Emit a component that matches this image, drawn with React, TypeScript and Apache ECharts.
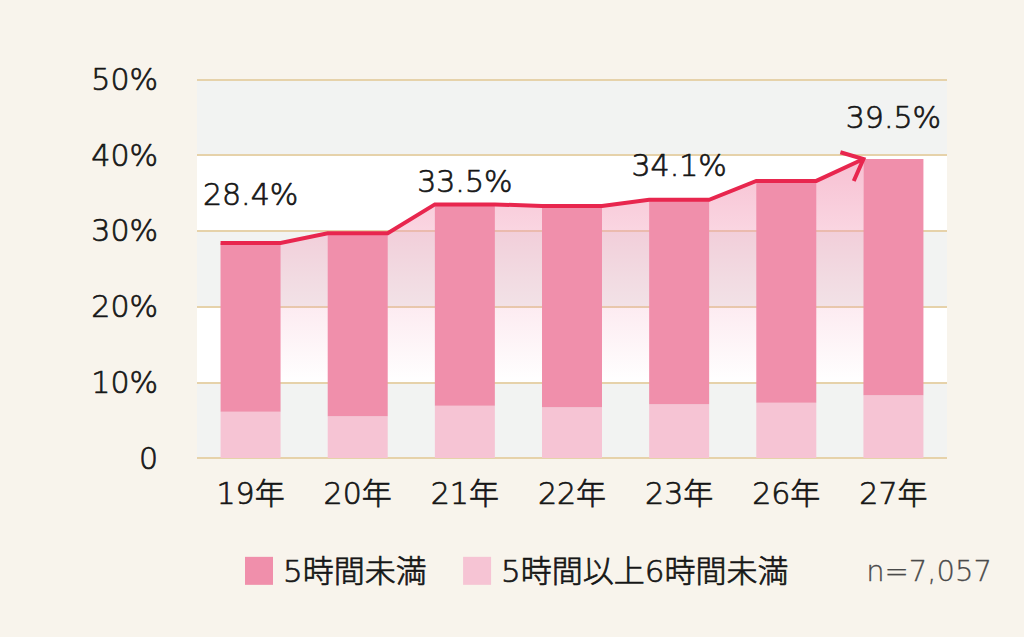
import React, { useEffect, useRef } from "react";
import * as echarts from "echarts";

const categories = ["19年", "20年", "21年", "22年", "23年", "26年", "27年"];
const under5 = [22.3, 24.2, 26.6, 26.6, 27.0, 29.3, 31.2];
const from5to6 = [6.1, 5.5, 6.9, 6.7, 7.1, 7.3, 8.3];
const totals = [28.4, 29.7, 33.5, 33.3, 34.1, 36.6, 39.5];
const labelShown = [true, false, true, false, true, false, true];
const seriesNames = ["5時間未満", "5時間以上6時間未満"];
const sampleNote = "n=7,057";
const yTicks = [0, 10, 20, 30, 40, 50];

const FONT = "'DejaVu Sans', 'Noto Sans CJK JP', sans-serif";
const WEIGHT = 200;
const INK = "#161616";
const THICK = { textBorderColor: INK, textBorderWidth: 0.7 };
const BAR_RATIO = 0.56;

export default function App() {
  const ref = useRef<HTMLDivElement>(null);
  useEffect(() => {
    if (!ref.current) return;
    const chart = echarts.init(ref.current, null, { renderer: "svg" });
    const labelLift = [33, 0, 7, 0, 18, 0, 25];

    const linePoints = (api: any) => {
      const bw = api.size([1, 0])[0];
      const half = (bw * BAR_RATIO) / 2;
      const pts: number[][] = [];
      totals.forEach((t, i) => {
        const c = api.coord([i, t]);
        pts.push([c[0] - half, c[1]]);
        if (i < totals.length - 1) pts.push([c[0] + half, c[1]]);
      });
      return pts;
    };

    const option: any = {
      animation: false,
      backgroundColor: "#f8f4ec",
      textStyle: { fontFamily: FONT, fontWeight: WEIGHT },
      grid: { left: 197, right: 77, top: 79.5, bottom: 179 },
      legend: {
        data: seriesNames,
        left: 240,
        top: 550,
        icon: "rect",
        itemWidth: 28,
        itemHeight: 28,
        itemGap: 36,
        textStyle: {
          fontSize: 31,
          color: INK,
          fontFamily: FONT,
          fontWeight: WEIGHT,
          padding: [0, 0, 0, 5],
          ...THICK,
        },
      },
      xAxis: {
        type: "category",
        data: categories,
        axisLine: { show: false },
        axisTick: { show: false },
        axisLabel: { fontSize: 30, color: INK, margin: 20, fontFamily: FONT, fontWeight: WEIGHT, ...THICK },
      },
      yAxis: {
        type: "value",
        min: yTicks[0],
        max: yTicks[yTicks.length - 1],
        interval: 10,
        axisLine: { show: false },
        axisTick: { show: false },
        axisLabel: {
          fontSize: 30,
          color: INK,
          margin: 39,
          fontFamily: FONT,
          fontWeight: WEIGHT,
          ...THICK,
          formatter: (v: number) => (v === 0 ? "0" : v + "%"),
        },
        splitLine: { lineStyle: { color: "#e6d2aa", width: 2 } },
        splitArea: { show: true, areaStyle: { color: ["#f2f3f2", "#ffffff"] } },
      },
      graphic: [
        {
          type: "text",
          left: 866,
          top: 556,
          style: {
            text: sampleNote,
            fontSize: 29,
            fill: "#4a4a4a",
            fontFamily: FONT,
            fontWeight: WEIGHT,
            stroke: "#4a4a4a",
            lineWidth: 0.3,
          },
        },
      ],
      series: [
        {
          type: "custom",
          z: 1,
          silent: true,
          clip: false,
          data: totals,
          renderItem: (params: any, api: any) => {
            if (params.dataIndex !== 0) return { type: "group", children: [] };
            const pts = linePoints(api);
            const base = api.coord([0, 10])[1];
            const poly = pts.concat([
              [pts[pts.length - 1][0], base],
              [pts[0][0], base],
            ]);
            return {
              type: "polygon",
              shape: { points: poly },
              style: {
                fill: new echarts.graphic.LinearGradient(0, 0, 0, 1, [
                  { offset: 0, color: "rgba(242,150,180,0.6)" },
                  { offset: 0.55, color: "rgba(242,150,180,0.25)" },
                  { offset: 1, color: "rgba(242,150,180,0)" },
                ]),
              },
            };
          },
        },
        {
          name: seriesNames[1],
          type: "bar",
          stack: "total",
          z: 2,
          barWidth: BAR_RATIO * 100 + "%",
          itemStyle: { color: "#f6c4d4" },
          data: from5to6,
        },
        {
          name: seriesNames[0],
          type: "bar",
          stack: "total",
          z: 2,
          itemStyle: { color: "#f08fab" },
          data: under5.map((v, i) => ({
            value: v,
            label: {
              show: labelShown[i],
              position: "top",
              distance: labelLift[i],
              formatter: () => totals[i].toFixed(1) + "%",
              fontSize: 30,
              lineHeight: 32,
              color: INK,
              fontFamily: FONT,
              fontWeight: WEIGHT,
              ...THICK,
            },
          })),
        },
        {
          type: "custom",
          z: 3,
          silent: true,
          clip: false,
          data: totals,
          renderItem: (params: any, api: any) => {
            if (params.dataIndex !== 0) return { type: "group", children: [] };
            const pts = linePoints(api);
            const tip = pts[pts.length - 1];
            const prev = pts[pts.length - 2];
            const back = Math.atan2(prev[1] - tip[1], prev[0] - tip[0]);
            const len = 24;
            const a1 = back + 0.72;
            const a2 = back - 0.72;
            const arm1 = [tip[0] + len * Math.cos(a1), tip[1] + len * Math.sin(a1)];
            const arm2 = [tip[0] + len * Math.cos(a2), tip[1] + len * Math.sin(a2)];
            const stroke = { stroke: "#e8264e", lineWidth: 4, fill: null };
            return {
              type: "group",
              children: [
                { type: "polyline", shape: { points: pts }, style: { ...stroke, lineJoin: "miter" } },
                { type: "polyline", shape: { points: [arm1, tip, arm2] }, style: { ...stroke, lineJoin: "miter" } },
              ],
            };
          },
        },
      ],
    };
    chart.setOption(option);
    return () => chart.dispose();
  }, []);
  return (
    <div
      ref={ref}
      style={{ position: "absolute", left: 0, top: 0, width: 1024, height: 637, background: "#f8f4ec" }}
    />
  );
}
